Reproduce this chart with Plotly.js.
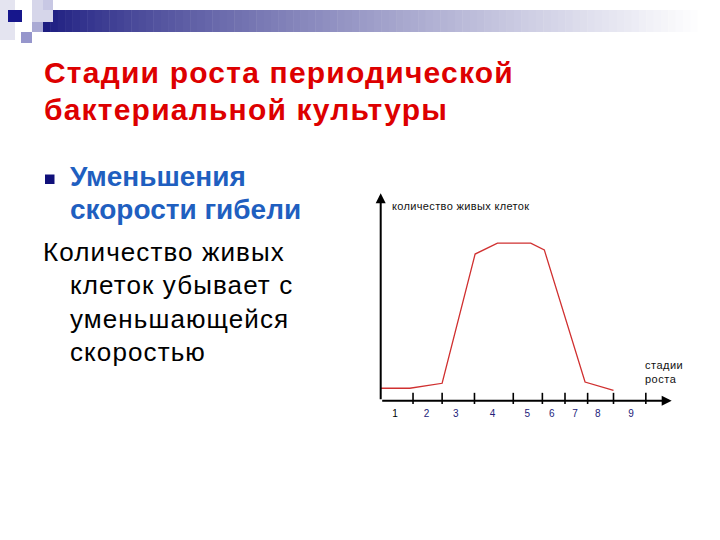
<!DOCTYPE html>
<html>
<head>
<meta charset="utf-8">
<script src="https://cdn.plot.ly/plotly-3.0.1.min.js"></script>
<style>html,body{margin:0;padding:0;background:#fff;}#chart{width:720px;height:540px;}</style>
</head>
<body>
<div id="chart"></div>
<script>
// ---- data ----
const titleLines = ['Стадии роста периодической', 'бактериальной культуры'];
const headingLines = ['Уменьшения', 'скорости гибели'];
const bodyLines = ['Количество живых', 'клеток убывает с', 'уменьшающейся', 'скоростью'];
const yAxisLabel = 'количество живых клеток';
const xAxisLabel = ['стадии', 'роста'];
const stageLabels = ['1', '2', '3', '4', '5', '6', '7', '8', '9'];
const stageCenters = [4.4, 14.2, 23.2, 34.6, 45.3, 52.9, 60.1, 67.1, 77.4];
const stageBounds = [10, 19, 29, 41, 50, 57, 64, 72, 82];
const timeValues = [0, 9, 19, 29.2, 36.1, 46.4, 50.6, 63.2, 72];
const liveCells = [6, 6, 8.4, 70.7, 76, 76, 72.7, 9, 5];

// ---- layout helpers ----
const W = 720, H = 540;
const px = v => v / W;
const py = v => 1 - v / H;
const FONT = 'Liberation Sans, Arial, sans-serif';

const shapes = [];
// top decoration: gradient bar
const x0 = 43, x1 = 705, n = 90;
for (let i = 0; i < n; i++) {
  const f = i / (n - 1);
  const g = Math.pow(f, 0.8);
  const r = Math.round(28 + (255 - 28) * g);
  const gg = Math.round(28 + (255 - 28) * g);
  const b = Math.round(128 + (255 - 128) * g);
  shapes.push({type: 'rect', xref: 'paper', yref: 'paper', layer: 'below',
    x0: px(x0 + (x1 - x0) * i / n), x1: px(x0 + (x1 - x0) * (i + 1) / n + 0.5),
    y0: py(32), y1: py(10), line: {width: 0}, fillcolor: `rgb(${r},${gg},${b})`});
}
const deco = [
  [0, 0, 15, 40, 'rgb(228,228,240)'],
  [32, 0, 53, 22, 'rgb(214,214,234)'],
  [43, 0, 53, 10, 'rgb(200,200,228)'],
  [32, 22, 43, 32, 'rgb(170,170,212)'],
  [21, 32, 32, 43, 'rgb(150,150,204)'],
  [8, 10, 22, 22, 'rgb(22,22,140)']
];
deco.forEach(d => shapes.push({type: 'rect', xref: 'paper', yref: 'paper', layer: 'below',
  x0: px(d[0]), x1: px(d[2]), y0: py(d[3]), y1: py(d[1]), line: {width: 0}, fillcolor: d[4]}));
// bullet square
shapes.push({type: 'rect', xref: 'paper', yref: 'paper', x0: px(45), x1: px(54.5), y0: py(184), y1: py(174.5),
  line: {width: 0}, fillcolor: '#10107a'});

const annotations = [];
function textLine(t, x, yc, size, color, bold, spacing) {
  let s = t;
  if (spacing) s = `<span style="letter-spacing:${spacing}px">${s}</span>`;
  if (bold) s = `<b>${s}</b>`;
  annotations.push({xref: 'paper', yref: 'paper', x: px(x), y: py(yc), xanchor: 'left', yanchor: 'middle',
    text: s, showarrow: false, align: 'left', font: {family: FONT, size: size, color: color}});
}
textLine(titleLines[0], 42, 72.5, 30, '#DD0000', true, 1.2);
textLine(titleLines[1], 42, 109.5, 30, '#DD0000', true, 1.2);
textLine(headingLines[0], 68, 177, 28, '#1F5FC0', true, 0);
textLine(headingLines[1], 68, 209.5, 28, '#1F5FC0', true, 0);
textLine(bodyLines[0], 41, 252, 26, '#000000', false, 1.1);
textLine(bodyLines[1], 68, 285, 26, '#000000', false, 1.1);
textLine(bodyLines[2], 68, 318.5, 26, '#000000', false, 1.1);
textLine(bodyLines[3], 68, 351.5, 26, '#000000', false, 1.1);

// axis labels
annotations.push({xref: 'paper', yref: 'paper', x: px(390), y: py(206), xanchor: 'left', yanchor: 'middle',
  text: `<span style="letter-spacing:0.35px">${yAxisLabel}</span>`, showarrow: false,
  font: {family: FONT, size: 11, color: '#111'}});
annotations.push({xref: 'paper', yref: 'paper', x: px(643), y: py(371.5), xanchor: 'left', yanchor: 'middle',
  text: `<span style="letter-spacing:0.5px">${xAxisLabel.join('<br>')}</span>`, showarrow: false, align: 'left',
  font: {family: FONT, size: 11, color: '#111'}});
// axes with arrowheads
annotations.push({x: 0, y: 100, ax: 0, ay: 0, xref: 'x', yref: 'y', axref: 'x', ayref: 'y', text: '',
  showarrow: true, arrowhead: 2, arrowsize: 1, arrowwidth: 2, arrowcolor: '#000', standoff: 0, startstandoff: 0});
annotations.push({x: 90, y: 0, ax: 0, ay: 0, xref: 'x', yref: 'y', axref: 'x', ayref: 'y', text: '',
  showarrow: true, arrowhead: 2, arrowsize: 1, arrowwidth: 2, arrowcolor: '#000', standoff: 0, startstandoff: 0});

const traces = [
  {x: timeValues, y: liveCells, mode: 'lines', type: 'scatter',
    line: {color: '#d03030', width: 1.3}, hoverinfo: 'skip', cliponaxis: false},
  {x: stageBounds, y: stageBounds.map(() => 0), yaxis: 'y2', mode: 'markers', type: 'scatter',
    marker: {symbol: 'line-ns', size: 8, line: {width: 1.6, color: '#000'}}, hoverinfo: 'skip', cliponaxis: false}
];

const yDomain = [(H - 400.7) / H, (H - 193.3) / H];
const layout = {
  width: W, height: H, margin: {l: 0, r: 0, t: 0, b: 0},
  paper_bgcolor: '#ffffff', plot_bgcolor: 'rgba(0,0,0,0)', showlegend: false,
  xaxis: {domain: [380.7 / W, 671.7 / W], range: [0, 90], showgrid: false, zeroline: false, showline: false,
    ticks: '', tickvals: stageCenters, ticklabelstandoff: 5,
    ticktext: stageLabels.map((s, i) => i === 0 ? `<span style="color:#000">${s}</span>` : s),
    tickfont: {family: FONT, size: 10, color: '#22227a'}, fixedrange: true},
  yaxis: {domain: yDomain, range: [0, 100], showgrid: false, zeroline: false,
    showline: false, showticklabels: false, ticks: '', fixedrange: true},
  yaxis2: {overlaying: 'y', range: [-1.1, 98.9], visible: false, fixedrange: true},
  shapes: shapes, annotations: annotations
};

Plotly.newPlot('chart', traces, layout, {displayModeBar: false, staticPlot: true});
</script>
</body>
</html>
